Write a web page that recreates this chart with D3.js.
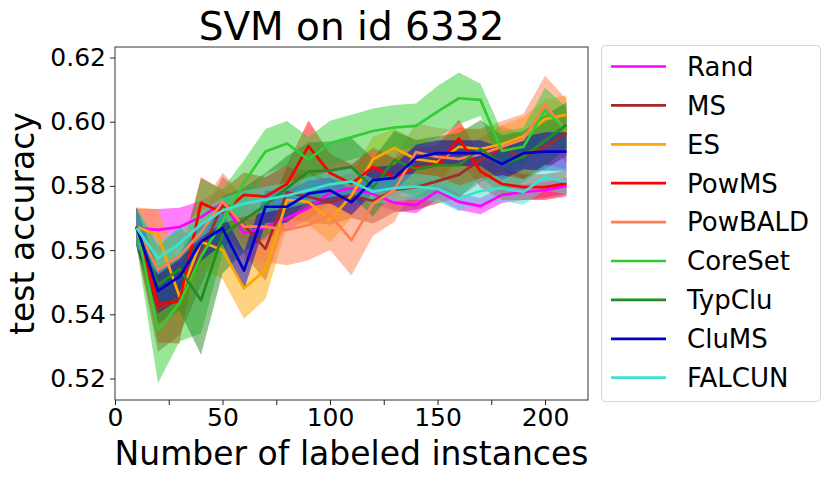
<!DOCTYPE html>
<html>
<head>
<meta charset="utf-8">
<script src="https://cdn.jsdelivr.net/npm/d3@7/dist/d3.min.js"></script>
<style>
  body { margin: 0; background: #fff; }
  svg text { font-family: "DejaVu Sans", sans-serif; fill: #000; }
</style>
</head>
<body>
<svg id="chart" width="831" height="482"></svg>
<script>
// number of labeled instances
var xs = [10, 20, 30, 40, 50, 60, 70, 80, 90, 100, 110, 120, 130, 140, 150, 160, 170, 180, 190, 200, 210];

var names = ['Rand', 'MS', 'ES', 'PowMS', 'PowBALD', 'CoreSet', 'TypClu', 'CluMS', 'FALCUN'];
var colors = ['#ff00ff', '#a52a2a', '#ffa500', '#ff0000', '#ff7f50', '#32cd32', '#228b22', '#0000cd', '#40e0d0'];

// mean test accuracy
var rand    = [0.5669,0.5663,0.5672,0.5703,0.5747,0.5653,0.5672,0.5700,0.5731,0.5778,0.5793,0.5775,0.5747,0.5740,0.5784,0.5750,0.5737,0.5772,0.5781,0.5787,0.5800];
var ms      = [0.5673,0.5413,0.5455,0.5590,0.5740,0.5678,0.5604,0.5780,0.5766,0.5749,0.5770,0.5753,0.5788,0.5796,0.5815,0.5835,0.5881,0.5917,0.5891,0.5922,0.5964];
var es      = [0.5673,0.5647,0.5455,0.5626,0.5600,0.5481,0.5538,0.5756,0.5750,0.5694,0.5770,0.5883,0.5918,0.5883,0.5874,0.5922,0.5915,0.5930,0.5955,0.6008,0.6022];
var powms   = [0.5673,0.5432,0.5439,0.5747,0.5717,0.5772,0.5767,0.5806,0.5924,0.5840,0.5807,0.5859,0.5827,0.5859,0.5865,0.5948,0.5845,0.5806,0.5796,0.5796,0.5808];
var powbald = [0.5673,0.5538,0.5582,0.5655,0.5751,0.5673,0.5673,0.5663,0.5678,0.5710,0.5631,0.5745,0.5788,0.5905,0.5890,0.5884,0.5899,0.5922,0.5945,0.6053,0.5970];
var coreset = [0.5673,0.5350,0.5435,0.5580,0.5690,0.5810,0.5907,0.5932,0.5882,0.5933,0.5952,0.5971,0.5982,0.5987,0.6031,0.6073,0.6068,0.5909,0.5922,0.6036,0.5974];
var typclu  = [0.5673,0.5491,0.5541,0.5444,0.5647,0.5694,0.5740,0.5793,0.5845,0.5848,0.5859,0.5795,0.5881,0.5853,0.5865,0.5865,0.5915,0.5868,0.5891,0.5940,0.5990];
var clums   = [0.5673,0.5473,0.5517,0.5626,0.5668,0.5536,0.5735,0.5735,0.5776,0.5786,0.5749,0.5818,0.5825,0.5888,0.5902,0.5902,0.5902,0.5868,0.5902,0.5907,0.5907];
var falcun  = [0.5670,0.5574,0.5621,0.5680,0.5723,0.5745,0.5757,0.5770,0.5787,0.5805,0.5814,0.5782,0.5793,0.5798,0.5791,0.5761,0.5784,0.5793,0.5781,0.5827,0.5813];

// standard deviation (shaded band)
var randStd    = [0.0060,0.0065,0.0060,0.0050,0.0045,0.0040,0.0040,0.0040,0.0035,0.0035,0.0030,0.0030,0.0025,0.0025,0.0025,0.0025,0.0025,0.0025,0.0025,0.0025,0.0025];
var msStd      = [0.006,0.013,0.012,0.010,0.009,0.009,0.010,0.008,0.008,0.007,0.007,0.007,0.007,0.007,0.007,0.007,0.007,0.007,0.007,0.007,0.007];
var esStd      = [0.006,0.008,0.010,0.008,0.009,0.0095,0.009,0.008,0.007,0.007,0.007,0.007,0.006,0.006,0.006,0.006,0.006,0.006,0.006,0.006,0.006];
var powmsStd   = [0.006,0.012,0.013,0.008,0.007,0.007,0.006,0.006,0.008,0.006,0.006,0.006,0.006,0.006,0.006,0.006,0.005,0.005,0.004,0.004,0.004];
var powbaldStd = [0.006,0.008,0.008,0.008,0.009,0.010,0.011,0.011,0.011,0.011,0.011,0.010,0.010,0.009,0.009,0.009,0.008,0.008,0.008,0.009,0.010];
var coresetStd = [0.006,0.0165,0.012,0.024,0.010,0.007,0.007,0.007,0.007,0.007,0.007,0.007,0.007,0.007,0.008,0.008,0.005,0.006,0.006,0.007,0.007];
var typcluStd  = [0.006,0.012,0.013,0.017,0.012,0.010,0.010,0.010,0.009,0.009,0.009,0.009,0.009,0.009,0.009,0.010,0.009,0.009,0.008,0.008,0.007];
var clumsStd   = [0.006,0.007,0.007,0.006,0.005,0.006,0.005,0.005,0.004,0.004,0.004,0.004,0.004,0.004,0.004,0.004,0.004,0.005,0.005,0.006,0.006];
var falcunStd  = [0.006,0.005,0.005,0.004,0.004,0.004,0.004,0.004,0.004,0.004,0.004,0.004,0.004,0.004,0.004,0.004,0.004,0.004,0.004,0.004,0.004];

var xTicks = [0, 25, 50, 75, 100, 125, 150, 175, 200];
var yTicks = [0.52, 0.54, 0.56, 0.58, 0.60, 0.62];

var means = [rand, ms, es, powms, powbald, coreset, typclu, clums, falcun];
var stds = [randStd, msStd, esStd, powmsStd, powbaldStd, coresetStd, typcluStd, clumsStd, falcunStd];

var series = names.map(function (n, i) {
  return {
    name: n,
    color: colors[i],
    points: xs.map(function (x, j) {
      return { x: x, m: means[i][j], s: stds[i][j] };
    })
  };
});

var svg = d3.select('#chart');
var plotL = 115, plotR = 588, plotT = 47, plotB = 400;

var x = d3.scaleLinear().domain([0, 220]).range([plotL, plotR]);
var y = d3.scaleLinear().domain([0.51330, 0.62327]).range([plotB, plotT]);

var plot = svg.append('g');
plot.append('clipPath').attr('id', 'clip')
  .append('rect').attr('x', plotL).attr('y', plotT)
  .attr('width', plotR - plotL).attr('height', plotB - plotT);

var area = d3.area()
  .x(function (d) { return x(d.x); })
  .y0(function (d) { return y(d.m - d.s); })
  .y1(function (d) { return y(d.m + d.s); });

var line = d3.line()
  .x(function (d) { return x(d.x); })
  .y(function (d) { return y(d.m); });

var marks = plot.append('g').attr('clip-path', 'url(#clip)');

marks.selectAll('path.band')
  .data(series)
  .enter()
  .append('path')
  .attr('class', 'band')
  .attr('d', function (d) { return area(d.points); })
  .attr('fill', function (d) { return d.color; })
  .attr('fill-opacity', 0.5)
  .attr('stroke', 'none');

marks.selectAll('path.mean')
  .data(series)
  .enter()
  .append('path')
  .attr('class', 'mean')
  .attr('d', function (d) { return line(d.points); })
  .attr('fill', 'none')
  .attr('stroke', function (d) { return d.color; })
  .attr('stroke-width', 2.7)
  .attr('stroke-linejoin', 'round');

// axes
var xAxis = d3.axisBottom(x).tickValues(xTicks).tickSize(5).tickPadding(3)
  .tickFormat(function (d) { return d % 50 === 0 ? d : ''; });
var yAxis = d3.axisLeft(y).tickValues(yTicks).tickSize(5).tickPadding(4)
  .tickFormat(d3.format('.2f'));

var gx = svg.append('g').attr('transform', 'translate(0,' + plotB + ')').call(xAxis);
var gy = svg.append('g').attr('transform', 'translate(' + plotL + ',0)').call(yAxis);

[gx, gy].forEach(function (g) {
  g.select('.domain').remove();
  g.selectAll('.tick line').attr('stroke', '#222').attr('stroke-width', 1);
  g.selectAll('.tick text').style('font-size', '25px').attr('fill', '#000');
});

svg.append('rect')
  .attr('x', plotL).attr('y', plotT)
  .attr('width', plotR - plotL).attr('height', plotB - plotT)
  .attr('fill', 'none').attr('stroke', '#333').attr('stroke-width', 1);

// labels
svg.append('text')
  .attr('x', (plotL + plotR) / 2).attr('y', 40)
  .attr('text-anchor', 'middle')
  .style('font-size', '39px')
  .text('SVM on id 6332');

svg.append('text')
  .attr('x', (plotL + plotR) / 2).attr('y', 465)
  .attr('text-anchor', 'middle')
  .style('font-size', '33px')
  .text('Number of labeled instances');

svg.append('text')
  .attr('transform', 'translate(34,' + ((plotT + plotB) / 2) + ') rotate(-90)')
  .attr('text-anchor', 'middle')
  .style('font-size', '33px')
  .text('test accuracy');

// legend
var legend = svg.append('g');
legend.append('rect')
  .attr('x', 601.5).attr('y', 45.5)
  .attr('width', 219).attr('height', 356)
  .attr('rx', 4).attr('ry', 4)
  .attr('fill', '#fff').attr('fill-opacity', 0.8)
  .attr('stroke', '#d6d6d6').attr('stroke-width', 1);

var items = legend.selectAll('g.item')
  .data(series)
  .enter()
  .append('g')
  .attr('class', 'item')
  .attr('transform', function (d, i) { return 'translate(0,' + (66.5 + i * 38.9) + ')'; });

items.append('line')
  .attr('x1', 611).attr('x2', 666)
  .attr('y1', 0).attr('y2', 0)
  .attr('stroke', function (d) { return d.color; })
  .attr('stroke-width', 2.7);

items.append('text')
  .attr('x', 687).attr('y', 0)
  .attr('dy', '0.36em')
  .style('font-size', '26px')
  .text(function (d) { return d.name; });
</script>
</body>
</html>
